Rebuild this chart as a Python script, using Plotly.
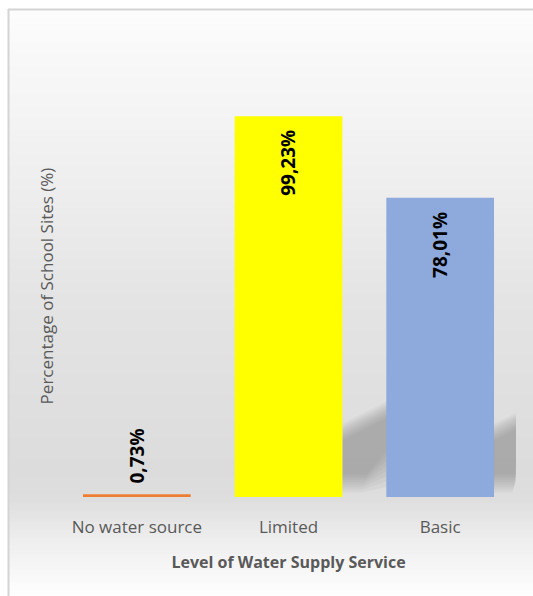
import plotly.graph_objects as go

categories = ["No water source", "Limited", "Basic"]
values = [0.73, 99.23, 78.01]
bar_colors = ["#ED7D31", "#FFFF00", "#8EA9DB"]
labels = [f"{v:.2f}".replace(".", ",") + "%" for v in values]

W, H = 533, 596
ML, MR, MT, MB = 61, 17, 75, 99
YMAX = 110
BARW = 0.71

fig = go.Figure()
fig.add_trace(go.Bar(
    x=list(range(len(categories))), y=values, width=BARW,
    marker=dict(color=bar_colors, line=dict(width=0)),
    hoverinfo="skip",
))

annotations = []
for i, (v, lab) in enumerate(zip(values, labels)):
    inside = v > 10
    annotations.append(dict(
        x=i, y=v, xref="x", yref="y", text=lab, showarrow=False, textangle=-90,
        yanchor="top" if inside else "bottom", xanchor="center",
        yshift=-12 if inside else 9,
        font=dict(family="Open Sans", size=19, color="#000000", weight="bold"),
    ))

shapes = []
stops = [(10, 252), (150, 241), (300, 228), (470, 220), (500, 222), (540, 238), (596, 254)]
def gray_at(py):
    for (a, ca), (b, cb) in zip(stops, stops[1:]):
        if a <= py <= b:
            t = (py - a) / (b - a)
            return ca + (cb - ca) * t
    return stops[-1][1]
ph = H - MT - MB
pw = W - ML - MR
def px2x(px): return (px - ML) / pw
def py2y(py): return (H - MB - py) / ph
step = 4
py = 10
while py < H:
    g = int(round(gray_at(py + step / 2)))
    shapes.append(dict(type="rect", xref="paper", yref="paper", layer="below",
                       x0=px2x(9), x1=px2x(W + 2), y0=py2y(py + step + 0.5), y1=py2y(py),
                       fillcolor=f"rgb({g},{g},{g})", line=dict(width=0)))
    py += step
shapes.append(dict(type="line", xref="paper", yref="paper", layer="above",
                   x0=px2x(8), x1=px2x(W + 2), y0=py2y(9.5), y1=py2y(9.5),
                   line=dict(color="#d4d4d4", width=2)))
shapes.append(dict(type="line", xref="paper", yref="paper", layer="above",
                   x0=px2x(8.5), x1=px2x(8.5), y0=py2y(9), y1=py2y(H + 2),
                   line=dict(color="#d4d4d4", width=2)))

# soft shadows to the right of the tall bars (layered for blur)
for i, v in enumerate(values):
    if v < 20:
        continue
    xr = i + BARW / 2
    x_end = min(xr + 0.45, len(categories) - 0.5)
    for k in range(8):
        inset = k * 0.006
        hl = 19 - k * 0.6
        slope = 20
        hr = hl + slope * (x_end - xr)
        yb = 4 + k * 2.2
        path = (f"M {xr},{yb * 0.3} L {xr},{hl} L {x_end},{hr} L {x_end},{yb} "
                f"L {xr + 0.12 + inset},{yb * 0.3} Z")
        shapes.append(dict(type="path", xref="x", yref="y", layer="below", path=path,
                           fillcolor="rgba(120,120,120,0.07)", line=dict(width=0)))

fig.update_layout(
    width=W, height=H,
    margin=dict(l=ML, r=MR, t=MT, b=MB),
    paper_bgcolor="#ffffff", plot_bgcolor="rgba(0,0,0,0)",
    shapes=shapes, annotations=annotations, showlegend=False,
    font=dict(family="Open Sans", color="#595959"),
    xaxis=dict(tickmode="array", tickvals=list(range(len(categories))), ticktext=categories,
               range=[-0.5, len(categories) - 0.5], showgrid=False, zeroline=False,
               showline=False, ticks="", ticklabelstandoff=18,
               tickfont=dict(size=17, color="#595959"),
               title=dict(text="Level of Water Supply Service", standoff=19,
                          font=dict(size=16, color="#595959", weight="bold"))),
    yaxis=dict(range=[0, YMAX], showticklabels=False, showgrid=False, zeroline=False,
               showline=False, ticks="",
               title=dict(text="Percentage of School Sites (%)", standoff=2,
                          font=dict(size=17, color="#595959"))),
)

fig.write_html("out.html")
